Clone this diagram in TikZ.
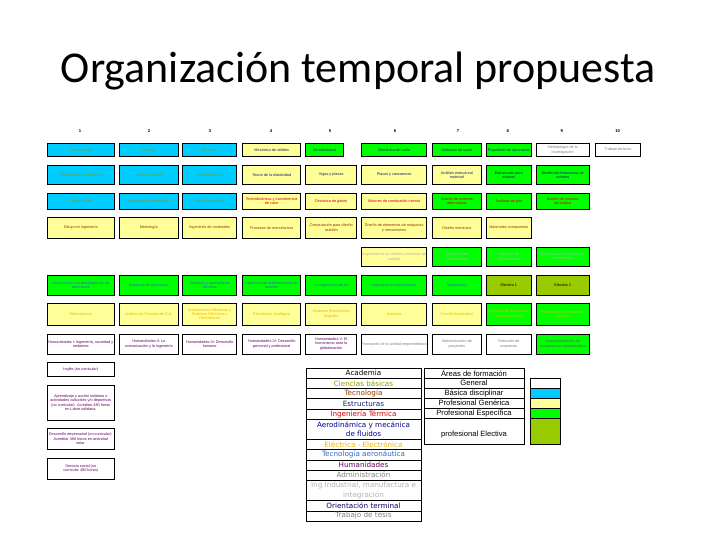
\documentclass[tikz,border=0pt]{standalone}
\usepackage{fontspec}
\setmainfont{Liberation Sans}
\newfontfamily\titlefont{Carlito}
\newfontfamily\legfont{DejaVu Sans}
\definecolor{cyanbox}{RGB}{0,204,255}
\definecolor{yelbox}{RGB}{255,255,153}
\definecolor{grnbox}{RGB}{0,255,0}
\definecolor{olvbox}{RGB}{153,204,0}
\definecolor{tOlive}{RGB}{150,150,0}
\definecolor{tBrown}{RGB}{153,51,0}
\definecolor{tNavy}{RGB}{20,30,120}
\definecolor{tRed}{RGB}{210,0,0}
\definecolor{tAero}{RGB}{0,0,150}
\definecolor{tElec}{RGB}{235,180,0}
\definecolor{tAeroTec}{RGB}{51,102,204}
\definecolor{tHum}{RGB}{102,0,102}
\definecolor{tAdm}{RGB}{128,128,128}
\definecolor{tInd}{RGB}{178,178,178}
\definecolor{tOrient}{RGB}{0,0,102}
\definecolor{tTesis}{RGB}{128,128,128}
\tikzset{
  cellbox/.style={draw=black, line width=0.9pt, align=center, inner sep=0.5pt,
    font=\fontsize{3.8}{4.4}\selectfont},
  cyanc/.style={fill=cyanbox, text=tOlive},
  yelc/.style={fill=yelbox},
  grnc/.style={fill=grnbox},
  olvc/.style={fill=olvbox, text=black},
  whtc/.style={fill=white},
  hdr/.style={font=\bfseries\fontsize{4.2}{5}\selectfont, inner sep=0pt},
  legrow/.style={draw=black, line width=0.6pt, minimum width=115pt, inner sep=0pt,
    align=center, font=\legfont\fontsize{7.2}{9.4}\selectfont},
  arearow/.style={draw=black, line width=0.6pt, minimum width=100pt, inner sep=0pt,
    minimum height=10pt, align=center, font=\fontsize{7.6}{9}\selectfont},
  swatch/.style={draw=black, line width=0.6pt, minimum width=30pt, inner sep=0pt}
}
\makeatletter
\newcommand\setcol[3]{\expandafter\def\csname cx#1\endcsname{#2}\expandafter\def\csname cw#1\endcsname{#3}}
\newcommand\setrow[3]{\expandafter\def\csname ry#1\endcsname{#2}\expandafter\def\csname rh#1\endcsname{#3}}
\makeatother
\setcol{1}{80.8}{67}
\setcol{2}{148.8}{59}
\setcol{3}{209.7}{54}
\setcol{4}{271.7}{58}
\setcol{5}{331.2}{51}
\setcol{6}{394.2}{65}
\setcol{7}{456.9}{49.2}
\setcol{8}{508.8}{45.7}
\setcol{9}{562.7}{53.3}
\setcol{10}{617.8}{45.7}
\setrow{1}{150}{13.4}
\setrow{2}{175}{18.6}
\setrow{3}{201.3}{16}
\setrow{4}{227.8}{21}
\setrow{5}{256.6}{18.7}
\setrow{6}{285.1}{20.3}
\setrow{7}{314.1}{21.7}
\setrow{8}{344}{20}
\newcommand\cell[4]{%
  \edef\cX{\csname cx#1\endcsname}\edef\cW{\csname cw#1\endcsname}%
  \edef\cY{\csname ry#2\endcsname}\edef\cH{\csname rh#2\endcsname}%
  \node[cellbox,minimum width=\cW pt,minimum height=\cH pt,#3] (c#1r#2) at (\cX,\cY) {#4};}
\begin{document}
\begin{tikzpicture}[x=1pt,y=-1pt]
\useasboundingbox (0,0) rectangle (720,540);
\fill[white] (0,0) rectangle (720,540);
\node[font=\titlefont\fontsize{44}{52}\selectfont, anchor=base, inner sep=0pt] (title) at (358.5,83) {Organización temporal propuesta};
% headers
\node[hdr] (h1) at (80,131) {1};
\node[hdr] (h2) at (149,131) {2};
\node[hdr] (h3) at (210,131) {3};
\node[hdr] (h4) at (271,131) {4};
\node[hdr] (h5) at (330,131) {5};
\node[hdr] (h6) at (395,131) {6};
\node[hdr] (h7) at (458,131) {7};
\node[hdr] (h8) at (507.7,131) {8};
\node[hdr] (h9) at (561.7,131) {9};
\node[hdr] (h10) at (617.7,131) {10};
% row 1
\cell{1}{1}{cyanc}{Computación}
\cell{2}{1}{cyanc}{Estática}
\cell{3}{1}{cyanc}{Dinámica}
\cell{4}{1}{yelc,text=tNavy}{Mecánica de sólidos}
\node[cellbox,grnc,text=tNavy,minimum width=37.6pt,minimum height=13.4pt] (c5r1) at (324.5,150) {Aerodinámica};
\cell{6}{1}{grnc,text=tNavy}{Mecánica de vuelo}
\cell{7}{1}{grnc,text=tNavy}{Dinámica de vuelo}
\cell{8}{1}{grnc,text=tNavy}{Propulsión de aeronaves}
\cell{9}{1}{whtc,text=tTesis}{Metodología de la\\investigación}
\cell{10}{1}{whtc,text=tTesis}{Trabajo de tesis}
% row 2
\cell{1}{2}{cyanc}{Probabilidad y estadística}
\cell{2}{2}{cyanc}{Química general}
\cell{3}{2}{cyanc}{Termodinámica}
\cell{4}{2}{yelc,text=tNavy}{Teoría de la elasticidad}
\cell{5}{2}{yelc,text=tNavy}{Vigas y placas}
\cell{6}{2}{yelc,text=tNavy}{Placas y cascarones}
\cell{7}{2}{yelc,text=tNavy}{Análisis estructural\\matricial}
\cell{8}{2}{grnc,text=tNavy}{Estructuras para\\aviones}
\cell{9}{2}{grnc,text=tNavy}{Diseño de estructuras de\\aviones}
% row 3
\cell{1}{3}{cyanc}{Álgebra lineal}
\cell{2}{3}{cyanc}{Ecuaciones diferenciales}
\cell{3}{3}{cyanc}{Cálculo avanzado}
\cell{4}{3}{yelc,text=tRed}{Termodinámica y transferencia\\de calor}
\cell{5}{3}{yelc,text=tRed}{Dinámica de gases}
\cell{6}{3}{yelc,text=tRed}{Motores de combustión interna}
\cell{7}{3}{grnc,text=tRed}{Diseño de motores\\alternativos}
\cell{8}{3}{grnc,text=tRed}{Turbinas de gas}
\cell{9}{3}{grnc,text=tRed}{Diseño de motores\\de turbina}
% row 4
\cell{1}{4}{yelc,text=tBrown}{Dibujo en ingeniería}
\cell{2}{4}{yelc,text=tBrown}{Metrología}
\cell{3}{4}{yelc,text=tBrown}{Ingeniería de materiales}
\cell{4}{4}{yelc,text=tBrown}{Procesos de manufactura}
\cell{5}{4}{yelc,text=tBrown}{Computación para diseño\\asistido}
\cell{6}{4}{yelc,text=tBrown}{Diseño de elementos de máquinas\\y mecanismos}
\cell{7}{4}{yelc,text=tBrown}{Diseño mecánico}
\cell{8}{4}{yelc,text=tBrown}{Materiales compuestos}
% row 5
\cell{6}{5}{yelc,text=tInd}{Ingeniería de la calidad y sistemas de\\calidad}
\cell{7}{5}{grnc,text=tInd}{Ingeniería de\\manufactura}
\cell{8}{5}{grnc,text=tInd}{Sistemas de\\manufactura}
\cell{9}{5}{grnc,text=tInd}{Manufactura integrada por\\computadora}
% row 6
\cell{1}{6}{grnc,text=tAeroTec}{Introducción a la tecnología de las\\aeronaves}
\cell{2}{6}{grnc,text=tAeroTec}{Sistemas de aeronaves}
\cell{3}{6}{grnc,text=tAeroTec}{Sistemas y operaciones\\técnicas}
\cell{4}{6}{grnc,text=tAeroTec}{Ingeniería de mantenimiento de\\aviones}
\cell{5}{6}{grnc,text=tAeroTec}{La regulación aérea}
\cell{6}{6}{grnc,text=tAeroTec}{Ingeniería de operaciones}
\cell{7}{6}{grnc,text=tAeroTec}{Aeropuertos}
\cell{8}{6}{olvc}{Electiva 1}
\cell{9}{6}{olvc}{Electiva 2}
% row 7
\cell{1}{7}{yelc,text=tElec}{Electrotecnia}
\cell{2}{7}{yelc,text=tElec}{Análisis de Circuitos de C.A.}
\cell{3}{7}{yelc,text=tElec}{Instalaciones Eléctricas y\\Sistemas Eléctricos y\\Electrónicos}
\cell{4}{7}{yelc,text=tElec}{Electrónica Analógica}
\cell{5}{7}{yelc,text=tElec}{Sistemas Electrónicos\\Digitales}
\cell{6}{7}{yelc,text=tElec}{Aviónica}
\cell{7}{7}{yelc,text=tElec}{Control Automático}
\cell{8}{7}{grnc,text=tElec}{Sistemas de navegación\\y comunicación}
\cell{9}{7}{grnc,text=tElec}{Tecnologías avanzadas en\\aviónica}
% row 8
\cell{1}{8}{whtc,text=tHum}{Humanidades I: Ingeniería, sociedad y\\ambiente}
\cell{2}{8}{whtc,text=tHum}{Humanidades II: La\\comunicación y la ingeniería}
\cell{3}{8}{whtc,text=tHum}{Humanidades III: Desarrollo\\humano}
\cell{4}{8}{whtc,text=tHum}{Humanidades IV: Desarrollo\\personal y profesional}
\cell{5}{8}{whtc,text=tHum}{Humanidades V: El\\humanismo ante la\\globalización}
\cell{6}{8}{whtc,text=tAdm}{Formación de la actitud emprendedora}
\cell{7}{8}{whtc,text=tAdm}{Administración de\\proyectos}
\cell{8}{8}{whtc,text=tAdm}{Dirección de\\empresas}
\cell{9}{8}{grnc,text=tAdm!70!black}{Comercialización de\\componentes aeronáuticos}
% bottom-left boxes
\node[cellbox,whtc,text=tHum,minimum width=67pt,minimum height=13.3pt] (b1) at (80.8,369.4) {Inglés (no curricular)};
\node[cellbox,whtc,text=tHum,minimum width=67pt,minimum height=35pt] (b2) at (80.8,402.5) {Aprendizaje y acción solidaria o\\actividades culturales y/o deportivas\\(no curricular). Acreditar 480 horas\\en Labor solidaria.};
\node[cellbox,whtc,text=tHum,minimum width=67pt,minimum height=21pt] (b3) at (80.8,438.8) {Desarrollo empresarial (no curricular).\\Acreditar 480 horas en actividad\\solar.};
\node[cellbox,whtc,text=tHum,minimum width=67pt,minimum height=20.7pt] (b4) at (80.8,468.7) {Servicio social (no\\curricular 480 horas)};
% legend: academia
\node[legrow,minimum height=10.2pt,text=black] (l1) at (363.5,373.1) {Academia};
\node[legrow,minimum height=10.2pt,text=tOlive] (l2) at (363.5,383.3) {Ciencias básicas};
\node[legrow,minimum height=10.2pt,text=tBrown] (l3) at (363.5,393.5) {Tecnología};
\node[legrow,minimum height=10.2pt,text=tNavy] (l4) at (363.5,403.7) {Estructuras};
\node[legrow,minimum height=10.2pt,text=tRed] (l5) at (363.5,413.9) {Ingeniería Térmica};
\node[legrow,minimum height=20.4pt,text=tAero] (l6) at (363.5,429.2) {Aerodinámica y mecánica\\de fluidos};
\node[legrow,minimum height=10.2pt,text=tElec] (l7) at (363.5,444.5) {Eléctrica - Electrónica};
\node[legrow,minimum height=10.2pt,text=tAeroTec] (l8) at (363.5,454.7) {Tecnología aeronáutica};
\node[legrow,minimum height=10.2pt,text=tHum] (l9) at (363.5,464.9) {Humanidades};
\node[legrow,minimum height=10.2pt,text=tAdm] (l10) at (363.5,475.1) {Administración};
\node[legrow,minimum height=20.4pt,text=tInd] (l11) at (363.5,490.4) {Ing Industrial, manufactura e\\integración};
\node[legrow,minimum height=10.2pt,text=tOrient] (l12) at (363.5,505.7) {Orientación terminal};
\node[legrow,minimum height=10.2pt,text=tTesis] (l13) at (363.5,515.9) {Trabajo de tesis};
% legend: areas
\node[arearow] (a1) at (474,373) {Áreas de formación};
\node[arearow] (a2) at (474,383) {General};
\node[arearow] (a3) at (474,393) {Básica disciplinar};
\node[arearow] (a4) at (474,403) {Profesional Genérica};
\node[arearow] (a5) at (474,413) {Profesional Específica};
\node[arearow,minimum height=26pt,text depth=0pt] (a6) at (474,431) {};
\node[font=\fontsize{7.6}{9}\selectfont, inner sep=0pt] (a6t) at (474,435) {profesional Electiva};
\node[swatch,fill=white,minimum height=10pt] (s2) at (545,383) {};
\node[swatch,fill=cyanbox,minimum height=10pt] (s3) at (545,393) {};
\node[swatch,fill=yelbox,minimum height=10pt] (s4) at (545,403) {};
\node[swatch,fill=grnbox,minimum height=10pt] (s5) at (545,413) {};
\node[swatch,fill=olvbox,minimum height=26pt] (s6) at (545,431) {};
\end{tikzpicture}
\end{document}
